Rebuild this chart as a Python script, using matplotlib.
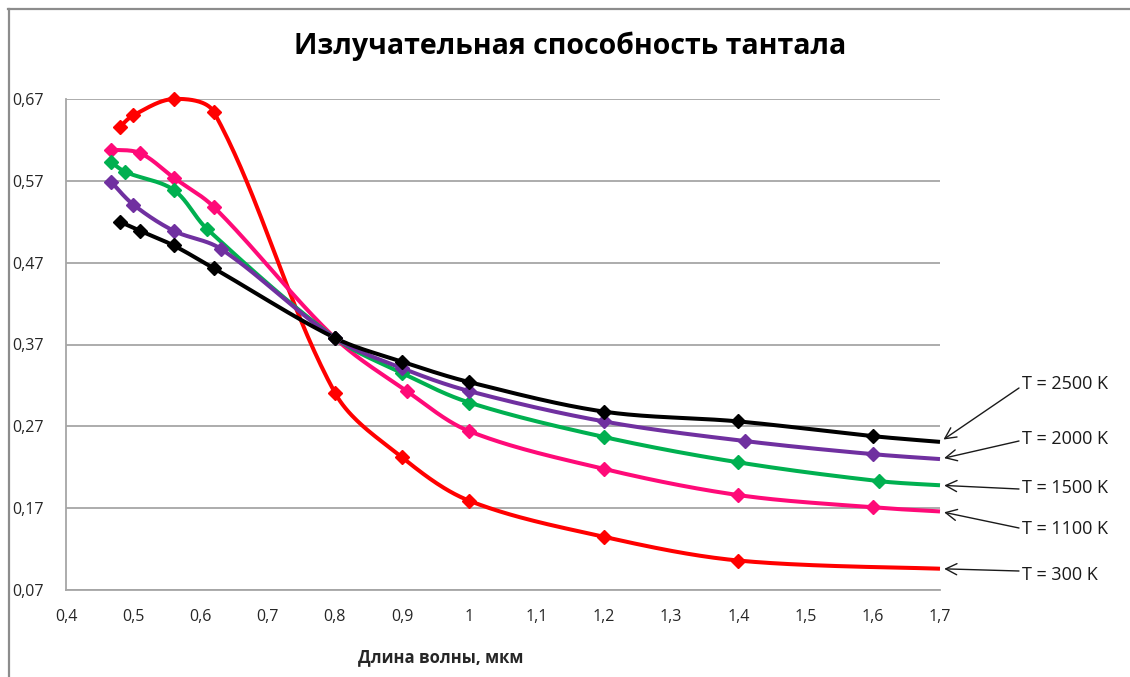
import numpy as np
import matplotlib
matplotlib.use("Agg")
import matplotlib.pyplot as plt
from matplotlib.lines import Line2D
from matplotlib.ticker import FuncFormatter, FixedLocator

plt.rcParams['font.family'] = ['Open Sans', 'DejaVu Sans']

# Spectral emissivity of tantalum at several temperatures
x_300 = [0.48, 0.50, 0.56, 0.62, 0.80, 0.90, 1.00, 1.20, 1.40, 1.70]
y_300 = [0.636, 0.650, 0.670, 0.654, 0.311, 0.232, 0.179, 0.135, 0.106, 0.096]

x_1100 = [0.467, 0.51, 0.56, 0.62, 0.80, 0.907, 1.00, 1.20, 1.40, 1.60, 1.70]
y_1100 = [0.608, 0.604, 0.574, 0.538, 0.378, 0.313, 0.264, 0.218, 0.186, 0.171, 0.166]

x_1500 = [0.467, 0.488, 0.56, 0.61, 0.80, 0.90, 1.00, 1.20, 1.40, 1.61, 1.70]
y_1500 = [0.593, 0.581, 0.559, 0.511, 0.378, 0.335, 0.299, 0.257, 0.226, 0.203, 0.198]

x_2000 = [0.467, 0.50, 0.56, 0.63, 0.80, 0.90, 1.00, 1.20, 1.41, 1.60, 1.70]
y_2000 = [0.569, 0.541, 0.509, 0.487, 0.378, 0.341, 0.313, 0.276, 0.252, 0.236, 0.230]

x_2500 = [0.48, 0.51, 0.56, 0.62, 0.80, 0.90, 1.00, 1.20, 1.40, 1.60, 1.70]
y_2500 = [0.520, 0.509, 0.491, 0.463, 0.378, 0.349, 0.324, 0.288, 0.276, 0.258, 0.251]

series_labels = ['T = 300 K', 'T = 1100 K', 'T = 1500 K', 'T = 2000 K', 'T = 2500 K']
series_colors = ['#FF0000', '#FF0A78', '#00B050', '#7030A0', '#000000']

x_ticks = [0.4, 0.5, 0.6, 0.7, 0.8, 0.9, 1.0, 1.1, 1.2, 1.3, 1.4, 1.5, 1.6, 1.7]
y_ticks = [0.07, 0.17, 0.27, 0.37, 0.47, 0.57, 0.67]

title = 'Излучательная способность тантала'
x_label = 'Длина волны, мкм'

W, H, DPI = 1130, 677, 100
fig = plt.figure(figsize=(W / DPI, H / DPI), dpi=DPI)
fig.patch.set_facecolor('white')

# chart frame lines along top and left edge
fig.add_artist(Line2D([8 / W, 1], [1 - 8.5 / H, 1 - 8.5 / H], color='#8C8C8C', lw=1.6,
                      transform=fig.transFigure))
fig.add_artist(Line2D([8.5 / W, 8.5 / W], [0, 1 - 8.5 / H], color='#8C8C8C', lw=1.6,
                      transform=fig.transFigure))

left, right, top, bottom = 66, 940, 99, 590
ax = fig.add_axes([left / W, 1 - bottom / H, (right - left) / W, (bottom - top) / H])
ax.set_xlim(0.4, 1.7)
ax.set_ylim(0.07, 0.67)


def smooth(xs, ys, n=40):
    """Bezier smoothing of a polyline in screen space; tangent handles are
    scaled by the neighbouring segment lengths to avoid overshoot."""
    xs = np.asarray(xs, float)
    ys = np.asarray(ys, float)
    sx = (right - left) / (1.7 - 0.4)
    sy = (bottom - top) / (0.67 - 0.07)
    P = np.column_stack([(xs - 0.4) * sx, (ys - 0.07) * sy])
    m = len(P)
    d = np.linalg.norm(np.diff(P, axis=0), axis=1)
    # tangent at every point
    T = np.zeros_like(P)
    for i in range(m):
        pm = P[i - 1] if i > 0 else P[i]
        pp = P[i + 1] if i + 1 < m else P[i]
        T[i] = pp - pm
    out = [P[0]]
    t = np.linspace(0, 1, n)[1:, None]
    for i in range(m - 1):
        p0, p3 = P[i], P[i + 1]
        dl = d[i - 1] if i > 0 else 0.0
        dr = d[i + 1] if i + 2 < m else 0.0
        f0 = d[i] / (dl + d[i]) / 3.0 if dl > 0 else 1 / 6.0
        f1 = d[i] / (d[i] + dr) / 3.0 if dr > 0 else 1 / 6.0
        c1 = p0 + T[i] * f0
        c2 = p3 - T[i + 1] * f1
        seg = ((1 - t) ** 3) * p0 + 3 * ((1 - t) ** 2) * t * c1 + 3 * (1 - t) * t ** 2 * c2 + t ** 3 * p3
        out.extend(seg)
    out = np.array(out)
    return out[:, 0] / sx + 0.4, out[:, 1] / sy + 0.07


all_x = [x_300, x_1100, x_1500, x_2000, x_2500]
all_y = [y_300, y_1100, y_1500, y_2000, y_2500]

for xs, ys, c in zip(all_x, all_y, series_colors):
    cx, cy = smooth(xs, ys)
    ax.plot(cx, cy, color=c, lw=2.9, solid_capstyle='butt', clip_on=False, zorder=3)
    ax.plot(xs[:-1], ys[:-1], ls='none', marker='D', ms=7.5, color=c, mec=c,
            clip_on=False, zorder=4)

# grid and axes
ax.yaxis.set_major_locator(FixedLocator(y_ticks))
ax.xaxis.set_major_locator(FixedLocator(x_ticks))
ax.grid(axis='y', color='#A6A6A6', lw=1.3, zorder=1)
ax.set_axisbelow(True)
for s in ['top', 'right']:
    ax.spines[s].set_visible(False)
for s in ['left', 'bottom']:
    ax.spines[s].set_color('#A6A6A6')
    ax.spines[s].set_linewidth(1.3)

fmt = FuncFormatter(lambda v, p: ('%g' % round(v, 2)).replace('.', ','))
ax.xaxis.set_major_formatter(fmt)
ax.yaxis.set_major_formatter(fmt)
ax.tick_params(axis='both', length=0, labelsize=11.5, labelcolor='#262626')
ax.tick_params(axis='x', pad=14)
ax.tick_params(axis='y', pad=39)
for lab in ax.get_yticklabels():
    lab.set_horizontalalignment('left')

fig.text(441 / W, 1 - 657 / H, x_label, ha='center', va='center', fontsize=12,
         fontweight='bold', color='#262626')
fig.text(570 / W, 1 - 46 / H, title, ha='center', va='center', fontsize=20.5,
         fontweight='bold', color='#000000')

# curve labels with arrows pointing to the curve ends
label_pos = {'T = 2500 K': (1019, 388, 384), 'T = 2000 K': (1019, 441, 439),
             'T = 1500 K': (1019, 489, 488), 'T = 1100 K': (1019, 528, 529),
             'T = 300 K': (1019, 571, 575)}
for xs, ys, lab in zip(all_x, all_y, series_labels):
    sx, sy, ty = label_pos[lab]
    ax.annotate('', xy=(xs[-1], ys[-1]), xycoords='data',
                xytext=(sx / W, 1 - sy / H), textcoords='figure fraction',
                arrowprops=dict(arrowstyle='->', color='#1A1A1A', lw=1.0,
                                shrinkA=0, shrinkB=3, mutation_scale=20))
    fig.text((sx + 3) / W, 1 - ty / H, lab, ha='left', va='center', fontsize=13,
             color='#1A1A1A')

fig.savefig('out.png', dpi=DPI)
